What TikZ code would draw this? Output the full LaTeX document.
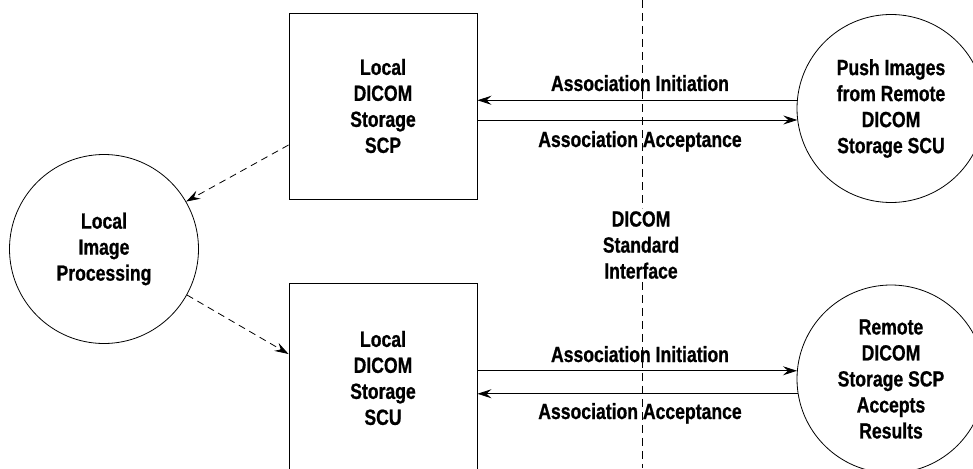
\documentclass[tikz,border=0pt]{standalone}
\usepackage{fontspec}
\newfontfamily\cf{Liberation Sans}[FakeStretch=0.8, BoldFeatures={FakeBold=0.8}]
\usetikzlibrary{arrows.meta,calc}
\begin{document}
\begin{tikzpicture}[x=1pt,y=1pt,
  every node/.style={font=\cf\bfseries\fontsize{22}{26}\selectfont, align=center},
  box/.style={draw, line width=0.9pt, minimum width=188pt, minimum height=186pt, inner sep=0pt},
  proc/.style={draw, circle, line width=0.8pt, minimum size=189pt, inner sep=0pt},
  arr/.style={line width=0.8pt, -{Stealth[length=14pt,width=9pt,inset=5pt]}},
  darr/.style={arr, dash pattern=on 7pt off 5pt},
  lbl/.style={anchor=base, inner sep=0pt},
  vdash/.style={line width=0.8pt, dash pattern=on 8pt off 5pt},
]
\useasboundingbox (0,0) rectangle (973,-468);
\clip (0,0) rectangle (973,-468);

\node[box] (scp) at (383,-106) {Local\\DICOM\\Storage\\SCP};
\node[box, minimum height=190pt] (scu) at (383,-378) {Local\\DICOM\\Storage\\SCU};
\node[proc] (lip) at (104,-249) {Local\\Image\\Processing};
\node[proc, minimum size=188pt] (push) at (891,-108.5) {Push Images\\from Remote\\DICOM\\Storage SCU};
\node[proc, minimum size=188pt] (rem) at (891,-379) {Remote\\DICOM\\Storage SCP\\Accepts\\Results};
\node[inner sep=3pt] (iface) at (641,-245) {DICOM\\Standard\\Interface};

\coordinate (vt) at (642,0);
\coordinate (vb) at (642,-468);
\draw[vdash] (vt) -- (vt |- iface.north);
\draw[vdash] (vb |- iface.south) -- (vb);

\draw[arr] (push.175.4) -- (scp.east |- push.175.4);
\draw[arr] (scp.east |- push.187.6) -- (push.187.6);
\draw[arr] (scu.east |- rem.175.7) -- (rem.175.7);
\draw[arr] (rem.189.2) -- (scu.east |- rem.189.2);

\node[lbl] (ai1) at (640,-91) {Association Initiation};
\node[lbl] (aa1) at (640,-147) {Association Acceptance};
\node[lbl] (ai2) at (640,-362) {Association Initiation};
\node[lbl] (aa2) at (640,-419) {Association Acceptance};

\draw[darr] ($(scp.west)+(0,-39)$) -- (lip.30.6);
\draw[darr] (lip.-29.2) -- ($(scu.west)+(0,24)$);
\end{tikzpicture}
\end{document}
